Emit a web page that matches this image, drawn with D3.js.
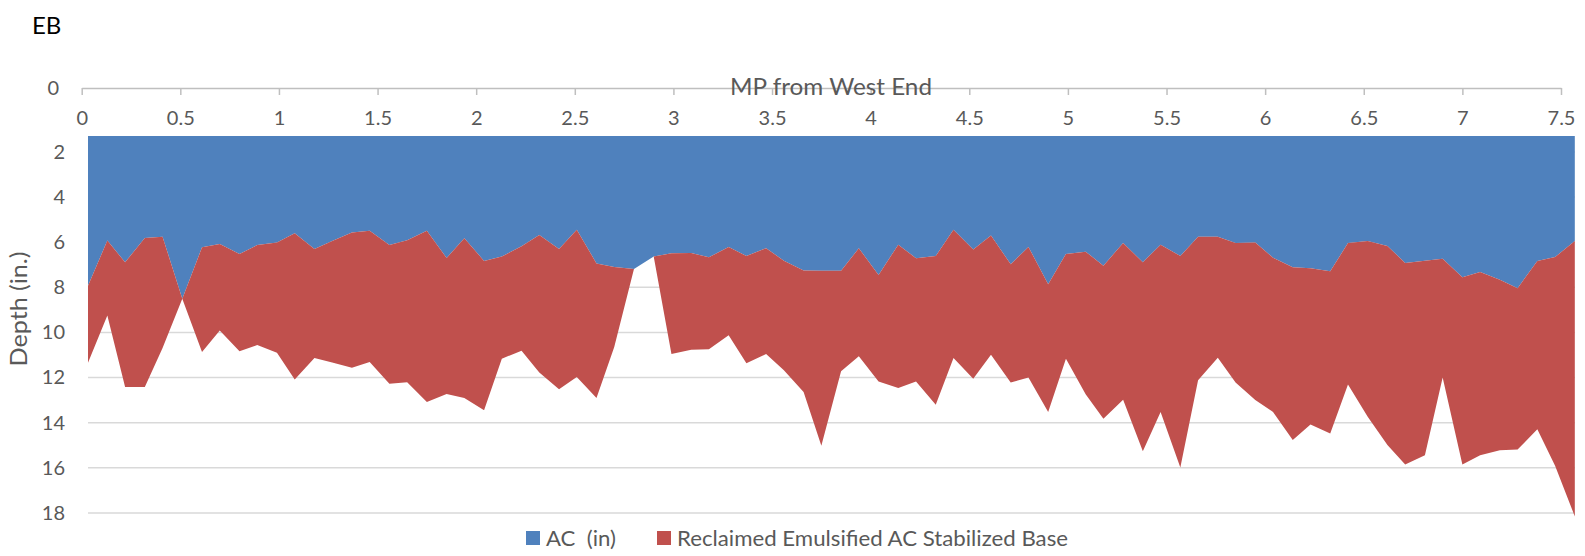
<!DOCTYPE html>
<html>
<head>
<meta charset="utf-8">
<script src="https://cdn.jsdelivr.net/npm/d3@7"></script>
<style>
  body { margin: 0; background: #fff; }
  text { font-family: Lato, "Open Sans", sans-serif; }
</style>
</head>
<body>
<svg id="chart" width="1585" height="556"></svg>
<script>
// mile post of each core
var mp = [0.03, 0.13, 0.22, 0.32, 0.41, 0.51, 0.61, 0.70, 0.80, 0.89,
          0.99, 1.08, 1.18, 1.27, 1.37, 1.46, 1.56, 1.65, 1.75, 1.85,
          1.94, 2.04, 2.13, 2.23, 2.32, 2.42, 2.51, 2.61, 2.70, 2.80,
          2.90, 2.99, 3.09, 3.18, 3.28, 3.37, 3.47, 3.56, 3.66, 3.75,
          3.85, 3.94, 4.04, 4.14, 4.23, 4.33, 4.42, 4.52, 4.61, 4.71,
          4.80, 4.90, 4.99, 5.09, 5.18, 5.28, 5.38, 5.47, 5.57, 5.66,
          5.76, 5.85, 5.95, 6.04, 6.14, 6.23, 6.33, 6.42, 6.52, 6.62,
          6.71, 6.81, 6.90, 7.00, 7.09, 7.19, 7.28, 7.38, 7.47, 7.57];

// AC thickness (in)
var acDepth = [7.97, 5.93, 6.89, 5.82, 5.76, 8.51, 6.23, 6.08, 6.52, 6.13,
               6.02, 5.61, 6.30, 5.95, 5.57, 5.49, 6.13, 5.92, 5.49, 6.70,
               5.83, 6.83, 6.64, 6.18, 5.68, 6.30, 5.45, 6.94, 7.10, 7.19,
               6.64, 6.49, 6.48, 6.67, 6.21, 6.61, 6.27, 6.82, 7.26, 7.27,
               7.27, 6.27, 7.45, 6.11, 6.71, 6.61, 5.45, 6.33, 5.70, 6.98,
               6.21, 7.86, 6.52, 6.42, 7.04, 6.04, 6.89, 6.11, 6.61, 5.76,
               5.76, 6.04, 6.01, 6.69, 7.11, 7.16, 7.29, 6.04, 5.95, 6.17,
               6.92, 6.82, 6.74, 7.55, 7.32, 7.67, 8.04, 6.83, 6.66, 5.95];

// stabilized base thickness (in)
var baseThick = [3.41, 3.32, 5.53, 6.60, 4.93, 0, 4.64, 3.83, 4.31, 4.43,
                 4.88, 6.47, 4.83, 5.38, 5.99, 5.82, 6.14, 6.29, 7.59, 6.03,
                 7.07, 6.62, 4.52, 4.63, 6.10, 6.22, 6.52, 5.96, 3.55, 0,
                 0, 4.47, 4.29, 4.07, 3.91, 4.76, 4.69, 4.86, 5.38, 7.75,
                 4.45, 4.79, 4.72, 6.35, 5.46, 6.59, 5.68, 5.72, 5.29, 5.24,
                 5.79, 5.66, 4.64, 6.32, 6.78, 6.94, 8.37, 7.41, 9.37, 6.36,
                 5.36, 6.18, 6.98, 6.83, 7.66, 6.92, 7.19, 6.27, 7.79, 8.82,
                 8.93, 8.62, 5.26, 8.30, 8.12, 7.55, 7.15, 7.46, 9.25, 12.2];

var xTicks = [0, 0.5, 1, 1.5, 2, 2.5, 3, 3.5, 4, 4.5, 5, 5.5, 6, 6.5, 7, 7.5];
var yTicks = [2, 4, 6, 8, 10, 12, 14, 16, 18];
var keys = ["ac", "base"];
var seriesNames = ["AC  (in)", "Reclaimed Emulsified AC Stabilized Base"];
var seriesColors = ["#4F81BD", "#C0504D"];

var svg = d3.select("#chart");
var plot = {left: 88, right: 1575, top: 136, bottom: 520};
var grey = "#595959";

// scales
var x = d3.scaleLinear().domain([0, 7.5]).range([81.7, 1561]);
var y = d3.scaleLinear().domain([0, 18]).range([106.75, 513]);

// build rows for the stack
var rows = mp.map(function(m, i) {
  return {mp: m, ac: acDepth[i], base: baseThick[i]};
});
var stack = d3.stack().keys(keys);

var area = d3.area()
    .x(function(d) { return x(d.data.mp); })
    .y0(function(d) { return y(d[0]); })
    .y1(function(d) { return y(d[1]); });

svg.append("clipPath").attr("id", "plotclip")
  .append("rect")
    .attr("x", plot.left).attr("y", plot.top)
    .attr("width", plot.right - plot.left).attr("height", plot.bottom - plot.top);

// gridlines
svg.append("g").selectAll("line")
  .data(yTicks).enter().append("line")
    .attr("x1", plot.left).attr("x2", plot.right)
    .attr("y1", function(d) { return y(d); })
    .attr("y2", function(d) { return y(d); })
    .attr("stroke", "#d9d9d9").attr("stroke-width", 1.5);

// stacked areas
svg.append("g").attr("clip-path", "url(#plotclip)")
  .selectAll("path")
  .data(stack(rows)).enter().append("path")
    .attr("fill", function(d, i) { return seriesColors[i]; })
    .attr("d", area);

// y axis
var yAxis = svg.append("g")
    .attr("transform", "translate(" + plot.left + ",0)")
    .call(d3.axisLeft(y).tickValues(yTicks).tickSize(0).tickPadding(23));
yAxis.select(".domain").remove();
yAxis.selectAll("text").attr("fill", grey).style("font-size", "20px");

// top value axis
var xAxis = svg.append("g")
    .attr("transform", "translate(0,88)")
    .call(d3.axisBottom(x).tickValues(xTicks).tickSize(7).tickSizeOuter(0)
          .tickPadding(16).tickFormat(function(d) { return d; }));
xAxis.select(".domain").attr("stroke", "#bfbfbf").attr("stroke-width", 1.5);
xAxis.selectAll("line").attr("stroke", "#bfbfbf").attr("stroke-width", 1.5);
xAxis.selectAll("text").attr("fill", grey).style("font-size", "20px");

// zero label where the two axes meet
var yTop = d3.scaleLinear().domain([0, 18]).range([88, 513]);
var zeroAxis = svg.append("g")
    .attr("transform", "translate(82,0)")
    .call(d3.axisLeft(yTop).tickValues([0]).tickSize(0).tickPadding(23));
zeroAxis.select(".domain").remove();
zeroAxis.selectAll("text").attr("fill", grey).style("font-size", "20px");

// titles
svg.append("text")
    .attr("x", 32).attr("y", 34)
    .style("font-size", "24px").attr("fill", "#000")
    .text("EB");

svg.append("text")
    .attr("x", 831).attr("y", 87).attr("dy", "0.35em")
    .attr("text-anchor", "middle")
    .attr("textLength", 202).attr("lengthAdjust", "spacingAndGlyphs")
    .style("font-size", "24px").attr("fill", grey)
    .text("MP from West End");

svg.append("text")
    .attr("transform", "translate(19,309) rotate(-90)")
    .attr("dy", "0.35em").attr("text-anchor", "middle")
    .attr("textLength", 115).attr("lengthAdjust", "spacingAndGlyphs")
    .style("font-size", "24px").attr("fill", grey)
    .text("Depth (in.)");

// legend
var legendX = [526, 657], legendW = [70, 391];
var legend = svg.append("g").selectAll("g")
  .data(seriesNames).enter().append("g")
    .attr("transform", function(d, i) { return "translate(" + legendX[i] + ",538)"; });
legend.append("rect")
    .attr("x", 0).attr("y", -7).attr("width", 14).attr("height", 14)
    .attr("fill", function(d, i) { return seriesColors[i]; });
legend.append("text")
    .attr("x", 20).attr("dy", "0.35em")
    .attr("textLength", function(d, i) { return legendW[i]; })
    .attr("lengthAdjust", "spacingAndGlyphs")
    .style("font-size", "21.5px").style("white-space", "pre").attr("fill", grey)
    .text(function(d) { return d; });
</script>
</body>
</html>
